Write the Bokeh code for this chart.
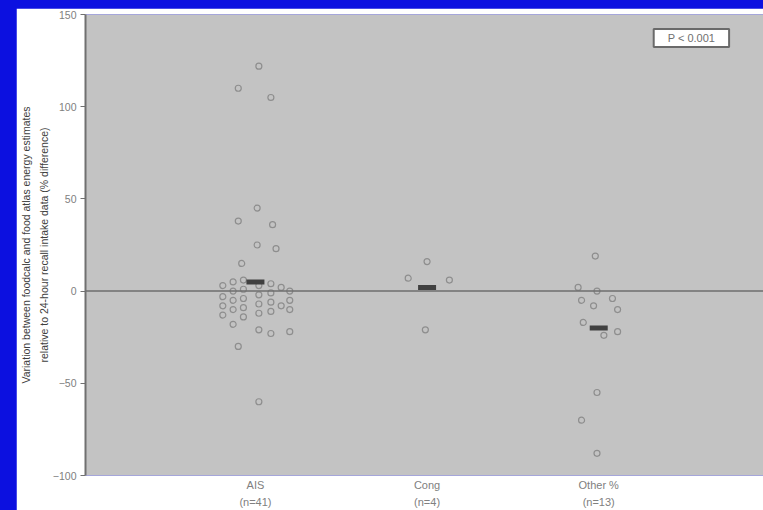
from bokeh.plotting import figure
from bokeh.layouts import row
from bokeh.models import FixedTicker, Span, Label, Range1d, Div
from bokeh.embed import file_html
from bokeh.resources import INLINE

# ---- data ----
categories = ["AIS\n(n=41)", "Cong\n(n=4)", "Other %\n(n=13)"]
y_ticks = [-100, -50, 0, 50, 100, 150]

ais_values = [122, 110, 105, 45, 38, 36, 25, 23, 15, -30, -60,
              3, -3, -8, -13,
              5, 0, -5, -10, -18,
              6, 1, -4, -9, -14,
              3, -2, -7, -12, -21,
              4, -1, -6, -11, -23,
              2, -8,
              0, -5, -10, -22]
ais_jitter = [0.02, -0.10, 0.09, 0.01, -0.10, 0.10, 0.01, 0.12, -0.08, -0.10, 0.02,
              -0.19, -0.19, -0.19, -0.19,
              -0.13, -0.13, -0.13, -0.13, -0.13,
              -0.07, -0.07, -0.07, -0.07, -0.07,
              0.02, 0.02, 0.02, 0.02, 0.02,
              0.09, 0.09, 0.09, 0.09, 0.09,
              0.15, 0.15,
              0.20, 0.20, 0.20, 0.20]

cong_values = [16, 7, 6, -21]
cong_jitter = [0.0, -0.11, 0.13, -0.01]

other_values = [19, 2, 0, -4, -5, -8, -10, -17, -22, -24, -55, -70, -88]
other_jitter = [-0.02, -0.12, -0.01, 0.08, -0.10, -0.03, 0.11, -0.09, 0.11, 0.03, -0.01, -0.10, -0.01]

means = [5, 2, -20]
annotation_text = "P < 0.001"
y_title = ("Variation between foodcalc and food atlas energy estimates\n"
           "relative to 24-hour recall intake data (% difference)")

# ---- figure ----
p = figure(width=747, height=502, output_backend="svg", toolbar_location=None,
           x_range=Range1d(0.01, 3.96), y_range=Range1d(-100, 150),
           min_border_left=69, min_border_right=0, min_border_top=6, min_border_bottom=34)
p.background_fill_color = "#c3c3c3"
p.border_fill_color = "white"
p.outline_line_color = None
p.xgrid.visible = False
p.ygrid.visible = False

# y axis
p.yaxis.ticker = FixedTicker(ticks=y_ticks)
p.yaxis.axis_line_color = "#707070"
p.yaxis.axis_line_width = 2
p.yaxis.major_tick_line_color = "#707070"
p.yaxis.major_tick_out = 5
p.yaxis.major_tick_in = 0
p.yaxis.minor_tick_line_color = None
p.yaxis.major_label_text_font = "Liberation Sans"
p.yaxis.major_label_text_font_size = "10.5px"
p.yaxis.major_label_text_color = "#808080"
p.yaxis.major_label_standoff = 4
p.yaxis.axis_label = y_title
p.yaxis.axis_label_text_font = "Liberation Sans"
p.yaxis.axis_label_text_font_size = "10.5px"
p.yaxis.axis_label_text_font_style = "normal"
p.yaxis.axis_label_text_color = "#404040"
p.yaxis.axis_label_text_line_height = 1.5
p.yaxis.axis_label_standoff = 0

# x axis
p.xaxis.ticker = FixedTicker(ticks=[1, 2, 3])
p.xaxis.major_label_overrides = {i + 1: c for i, c in enumerate(categories)}
p.xaxis.axis_line_color = None
p.xaxis.major_tick_line_color = None
p.xaxis.major_tick_out = 0
p.xaxis.major_tick_in = 0
p.xaxis.minor_tick_line_color = None
p.xaxis.minor_tick_out = 0
p.xaxis.major_label_text_font = "Liberation Sans"
p.xaxis.major_label_text_font_size = "11px"
p.xaxis.major_label_text_color = "#808080"
p.xaxis.major_label_text_line_height = 1.45
p.xaxis.major_label_standoff = 3

# zero line
p.add_layout(Span(location=0, dimension="width", line_color="#6e6e6e", line_width=1.5))

# points
for idx, (vals, jit) in enumerate([(ais_values, ais_jitter),
                                   (cong_values, cong_jitter),
                                   (other_values, other_jitter)]):
    xs = [idx + 1 + j for j in jit]
    p.scatter(xs, vals, marker="circle", size=6, fill_color=None,
              line_color="#8e8e8e", line_width=1.2)

# means
p.rect(x=[1, 2, 3], y=means, width=18, height=5, width_units="screen",
       height_units="screen", fill_color="#404040", line_color=None)

# annotation box (padding order: left, right, top, bottom)
p.add_layout(Label(x=3.54, y=137.3, text=annotation_text, text_align="center",
                   text_baseline="middle", text_font="Liberation Sans",
                   text_font_size="11px", text_color="#707070",
                   background_fill_color="white", border_line_color="#6a6a6a",
                   border_line_width=2, padding=(14, 14, 3, 3)))

strip = Div(text="", width=8, height=502, margin=0,
            styles={"background-color": "#0c10e0"})
layout = row(strip, p, spacing=0)

html = file_html(layout, INLINE)
html = html.replace("</head>",
                    "<style>html,body{background:#0c10e0;overflow:hidden;}"
                    "body{margin:8px 0 0 8px;}</style></head>", 1)
open("out.html", "w").write(html)
